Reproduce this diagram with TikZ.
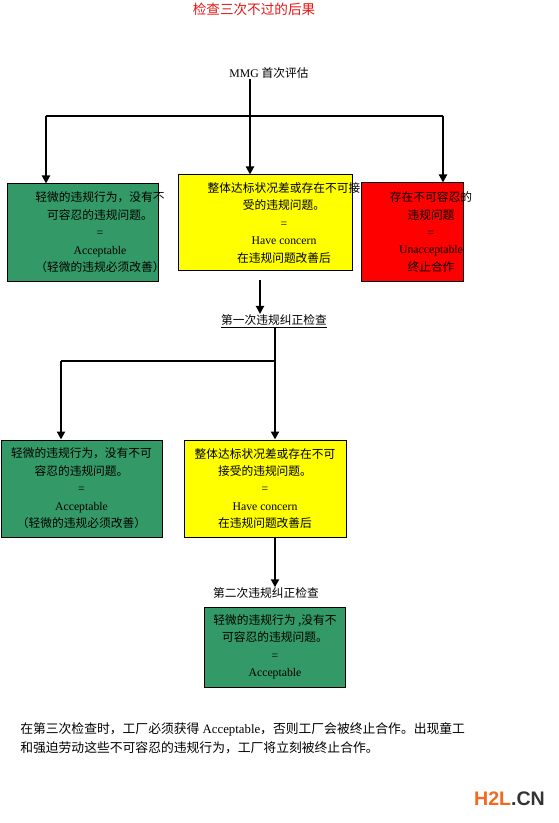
\documentclass[tikz,border=0pt]{standalone}
\usepackage{fontspec}
\setmainfont{Liberation Serif}
\newfontfamily\cjk{Noto Sans CJK SC}
\newfontfamily\brandfont{Liberation Sans}
\usepackage{xcolor}
\usetikzlibrary{arrows.meta}

\definecolor{boxgreen}{RGB}{51,153,102}
\definecolor{boxyellow}{RGB}{255,255,0}
\definecolor{boxred}{RGB}{255,0,0}
\definecolor{titlered}{RGB}{230,20,20}
\definecolor{brandorange}{RGB}{242,106,33}
\definecolor{branddark}{RGB}{51,51,51}

\newcommand{\zh}[1]{{\cjk #1}}

\tikzset{
  box/.style={draw=black, line width=0.75pt, inner sep=0pt},
  boxtext/.style={align=center, inner sep=0pt, font=\fontsize{8.8pt}{13.1pt}\selectfont},
  plaintext/.style={inner sep=0pt, font=\fontsize{8.8pt}{12pt}\selectfont},
  arr/.style={line width=1.6pt, -{Triangle[width=6pt,length=6pt]}},
  feed/.style={line width=0.9pt},
}

\begin{document}
\begin{tikzpicture}[x=0.75pt, y=-0.75pt]

    \useasboundingbox (0,0) rectangle (559,823);

    % Title and first assessment
    \node[plaintext, text=titlered, font=\fontsize{10.2pt}{12pt}\selectfont] (title) at (254,9) {\zh{检查三次不过的后果}};
    \node[plaintext] (mmg) at (269,73) {MMG \zh{首次评估}};

    % First row: three results
    \node[box, fill=boxgreen, minimum width=113.25pt, minimum height=72.75pt] (g1) at (82.5,232.5) {};
    \node[boxtext] (g1t) at (100,232.5) {\zh{轻微的违规行为，没有不}\\ \zh{可容忍的违规问题。}\\ =\\ Acceptable\\ \zh{（轻微的违规必须改善）}};

    \node[box, fill=boxyellow, minimum width=130.5pt, minimum height=72pt] (y1) at (265,223) {};
    \node[boxtext] (y1t) at (284,223) {\zh{整体达标状况差或存在不可接}\\ \zh{受的违规问题。}\\ =\\ Have concern\\ \zh{在违规问题改善后}};

    \node[box, fill=boxred, minimum width=76.5pt, minimum height=73.5pt] (r1) at (412,232) {};
    \node[boxtext] (r1t) at (431,232) {\zh{存在不可容忍的}\\ \zh{违规问题}\\ =\\ Unacceptable\\ \zh{终止合作}};

    \coordinate (split1) at (250,116);
    \coordinate (left1) at (46,116);
    \coordinate (right1) at (443,116);
    \draw[feed] (left1) -- (right1);
    \draw[arr] (mmg.south -| split1) -- (split1 |- y1.north);
    \draw[arr] (left1) -- (left1 |- g1.north);
    \draw[arr] (right1) -- (right1 |- r1.north);

    % First corrective check
    \node[plaintext] (chk1) at (274,321) {\underline{\zh{第一次违规纠正检查}}};
    \coordinate (from1) at (260,280);
    \draw[arr] (from1) -- (from1 |- chk1.north);

    % Second row: two results
    \node[box, fill=boxgreen, minimum width=120.75pt, minimum height=72.75pt] (g2) at (81.5,488.5) {};
    \node[boxtext] (g2t) at (81.5,488.5) {\zh{轻微的违规行为，没有不可}\\ \zh{容忍的违规问题。}\\ =\\ Acceptable\\ \zh{（轻微的违规必须改善）}};

    \node[box, fill=boxyellow, minimum width=121.5pt, minimum height=72.75pt] (y2) at (265,488.5) {};
    \node[boxtext] (y2t) at (265,488.5) {\zh{整体达标状况差或存在不可}\\ \zh{接受的违规问题。}\\ =\\ Have concern\\ \zh{在违规问题改善后}};

    \coordinate (split2) at (275,361);
    \coordinate (left2) at (61,361);
    \draw[feed] (left2) -- (split2);
    \draw[arr] (chk1.south -| split2) -- (split2 |- y2.north);
    \draw[arr] (left2) -- (left2 |- g2.north);

    % Second corrective check
    \node[plaintext] (chk2) at (266,593) {\zh{第二次违规纠正检查}};
    \draw[arr] (y2.south -| split2) -- (split2 |- chk2.north);

    \node[box, fill=boxgreen, minimum width=105.75pt, minimum height=60pt] (g3) at (274.5,647) {};
    \node[boxtext] (g3t) at (275,647) {\zh{轻微的违规行为 ,没有不}\\ \zh{可容忍的违规问题。}\\ =\\ Acceptable};

    % Note at the bottom
    \node[plaintext, anchor=west, align=left, font=\fontsize{9.6pt}{14.25pt}\selectfont] (note) at (20,738.5)
        {\zh{在第三次检查时，工厂必须获得} Acceptable\zh{，否则工厂会被终止合作。出现童工}\\
         \zh{和强迫劳动这些不可容忍的违规行为，工厂将立刻被终止合作。}};

    \node[plaintext, font=\brandfont\bfseries\fontsize{14.7pt}{16pt}\selectfont] (brand) at (509.5,799)
        {\textcolor{brandorange}{H2L}\textcolor{branddark}{.CN}};

\end{tikzpicture}
\end{document}
